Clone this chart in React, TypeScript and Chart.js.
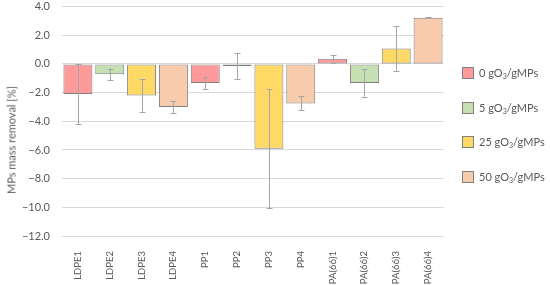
import React, { useEffect, useRef } from "react";
import { Chart, registerables } from "chart.js";

Chart.register(...registerables);

const categories = ["LDPE1", "LDPE2", "LDPE3", "LDPE4", "PP1", "PP2", "PP3", "PP4", "PA(66)1", "PA(66)2", "PA(66)3", "PA(66)4"];
const seriesNames = ["0 gO₃/gMPs", "5 gO₃/gMPs", "25 gO₃/gMPs", "50 gO₃/gMPs"];
const seriesLegend = ["0", "5", "25", "50"];
const values = [-2.1, -0.72, -2.2, -3.0, -1.32, -0.15, -5.92, -2.75, 0.37, -1.33, 1.07, 3.22];
const errors = [2.1, 0.4, 1.12, 0.42, 0.43, 0.9, 4.15, 0.48, 0.28, 0.95, 1.55, 0.04];
const fillColors = ["#ff9a9a", "#c6e0b4", "#ffd966", "#f8cbad"];
const yMin = -12;
const yMax = 4;
const yStep = 2;

const FONT = "Lato, 'Open Sans', sans-serif";
const TEXT = "#595959";

const errorBarPlugin = {
  id: "errorBars",
  afterDatasetsDraw(chart: any) {
    const ctx = chart.ctx;
    const y = chart.scales.y;
    ctx.save();
    ctx.strokeStyle = "#a6a6a6";
    ctx.lineWidth = 1;
    chart.data.datasets.forEach((ds: any, di: number) => {
      const meta = chart.getDatasetMeta(di);
      meta.data.forEach((el: any, i: number) => {
        const v = ds.data[i];
        if (v === null || v === undefined) return;
        const e = errors[i];
        const x = Math.round(el.x) + 0.5;
        const yt = y.getPixelForValue(v + e);
        const yb = y.getPixelForValue(v - e);
        ctx.beginPath();
        ctx.moveTo(x, yt);
        ctx.lineTo(x, yb);
        ctx.moveTo(x - 3, Math.round(yt) + 0.5);
        ctx.lineTo(x + 3, Math.round(yt) + 0.5);
        ctx.moveTo(x - 3, Math.round(yb) + 0.5);
        ctx.lineTo(x + 3, Math.round(yb) + 0.5);
        ctx.stroke();
      });
    });
    ctx.restore();
  },
};

export default function App() {
  const ref = useRef<HTMLCanvasElement>(null);
  useEffect(() => {
    if (!ref.current) return;
    const datasets = seriesNames.map((name, s) => ({
      label: name,
      data: values.map((v, i) => (i % 4 === s ? v : null)),
      backgroundColor: fillColors[s],
      borderColor: "#7f7f7f",
      borderWidth: 1,
      borderSkipped: false as any,
      barPercentage: 0.91,
      categoryPercentage: 1,
    }));
    const chart = new Chart(ref.current, {
      type: "bar",
      data: { labels: categories, datasets },
      plugins: [errorBarPlugin],
      options: {
        animation: false,
        responsive: false,
        maintainAspectRatio: false,
        layout: { padding: { left: 0, right: 106, top: 0, bottom: 0 } },
        plugins: { legend: { display: false }, tooltip: { enabled: false } },
        scales: {
          x: {
            stacked: true,
            grid: { display: false },
            border: { display: false },
            ticks: {
              color: TEXT,
              font: { family: FONT, size: 9.5 },
              maxRotation: 90,
              minRotation: 90,
              padding: 7,
              autoSkip: false,
            },
            afterFit: (s: any) => { s.height = 49; },
          },
          y: {
            min: yMin,
            max: yMax,
            grid: { color: "#d9d9d9", drawTicks: true, tickLength: 12, tickColor: "rgba(0,0,0,0)", lineWidth: 1 },
            border: { display: false },
            ticks: {
              stepSize: yStep,
              color: TEXT,
              font: { family: FONT, size: 11 },
              padding: 0,
              callback: (v: any) => Number(v).toFixed(1).replace("-", "\u2212"),
            },
            afterFit: (s: any) => { s.width = 62; },
          },
        },
      },
    });
    return () => chart.destroy();
  }, []);

  const legendTops = [73, 108, 142, 177];
  return (
    <div style={{ position: "fixed", left: 0, top: 0, width: 550, height: 285, background: "#fff" }}>
      <canvas ref={ref} width={550} height={285} style={{ width: 550, height: 285, display: "block" }} />
      <div
        style={{
          position: "absolute",
          left: 11,
          top: 140,
          transform: "translate(-50%, -50%) rotate(-90deg)",
          fontFamily: FONT,
          fontSize: 11,
          color: TEXT,
          whiteSpace: "nowrap",
          lineHeight: "13px",
        }}
      >
        MPs mass removal [%]
      </div>
      {seriesLegend.map((n, i) => (
        <div
          key={n}
          style={{
            position: "absolute",
            left: 462,
            top: legendTops[i] - 8,
            height: 16,
            display: "flex",
            alignItems: "center",
            fontFamily: FONT,
            fontSize: 11,
            color: TEXT,
            whiteSpace: "nowrap",
          }}
        >
          <span
            style={{
              display: "inline-block",
              width: 12,
              height: 12,
              background: fillColors[i],
              border: "1px solid #7f7f7f",
              marginRight: 5,
              boxSizing: "border-box",
            }}
          />
          <span>
            {n} gO<sub style={{ fontSize: 7, verticalAlign: "-2px" }}>3</sub>/gMPs
          </span>
        </div>
      ))}
    </div>
  );
}
